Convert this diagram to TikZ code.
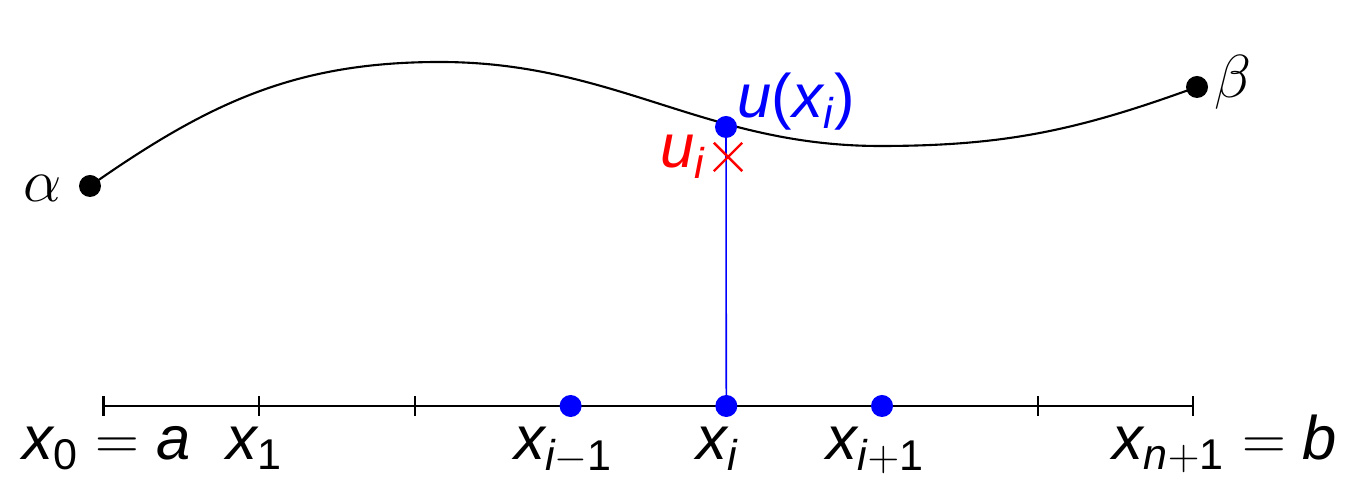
\documentclass[tikz,border=0pt]{standalone}
\usepackage{amsmath}
\usepackage{fontspec}
\setmainfont{Liberation Sans}
\usetikzlibrary{shapes.misc}
\newcommand{\sv}[1]{\text{\itshape #1}}
\newcommand{\sn}[1]{\text{#1}}

\begin{document}
\begin{tikzpicture}
  [every node/.style={font=\fontsize{17.5}{21}\selectfont},
   dot/.style={circle,fill=black,inner sep=0pt,minimum size=0.22cm},
   bdot/.style={dot,fill=blue},
   lbl/.style={anchor=base,inner sep=0pt}]
  \useasboundingbox (0,0) rectangle (13.62,4.94);

  % grid on the axis
  \foreach \i in {0,...,7}
    \coordinate (t\i) at ({1.035+1.557*\i},0.88);
  \draw[line width=0.6pt] (t0) -- (t7);
  \foreach \i in {0,...,7}
    \draw[line width=0.6pt] ([yshift=-0.1cm]t\i) -- ([yshift=0.1cm]t\i);

  \node[lbl] (l0) at (1.065,0.34) {$\sv{x}_{\sn{0}} = \sv{a}$};
  \node[lbl] (l1) at (2.55,0.34) {$\sv{x}_{\sn{1}}$};
  \node[lbl] (l3) at (5.64,0.34) {$\sv{x}_{\sv{i}-\sn{1}}$};
  \node[lbl] (l4) at (7.18,0.34) {$\sv{x}_{\sv{i}}$};
  \node[lbl] (l5) at (8.76,0.34) {$\sv{x}_{\sv{i}+\sn{1}}$};
  \node[lbl] (l7) at (12.25,0.34) {$\sv{x}_{\sv{n}+\sn{1}} = \sv{b}$};

  % the solution curve
  \node[dot] (alpha) at (0.90,3.08) {};
  \node[dot] (beta) at (11.97,4.07) {};
  \node (la) at (0.43,3.06) {$\alpha$};
  \node (lb) at (12.33,4.12) {$\beta$};
  \coordinate (top) at (4.40,4.32);
  \coordinate (bot) at (8.80,3.48);
  \draw[line width=0.6pt] (alpha.center) to[out=35,in=180] (top)
    to[out=0,in=180] (bot) to[out=0,in=200] (beta.center);

  \coordinate (xi0) at (t4);
  \coordinate (uxi0) at (7.26,3.67);
  \draw[blue,line width=0.45pt] (xi0) -- (uxi0);

  \node[bdot] (xim) at (t3) {};
  \node[bdot] (xi) at (t4) {};
  \node[bdot] (xip) at (t5) {};
  \node[bdot] (uxi) at (uxi0) {};

  \node[cross out,draw=red,line width=0.7pt,minimum size=0.26cm,inner sep=0pt] (ui) at (7.28,3.37) {};
  \node[anchor=base west,inner sep=0pt,text=blue] (luxi) at (7.37,3.76) {$\sv{u}\sn{(}\sv{x}_{\sv{i}}\sn{)}$};
  \node[anchor=base east,inner sep=0pt,text=red] (lui) at (7.07,3.26) {$\sv{u}_{\sv{i}}$};
\end{tikzpicture}
\end{document}
